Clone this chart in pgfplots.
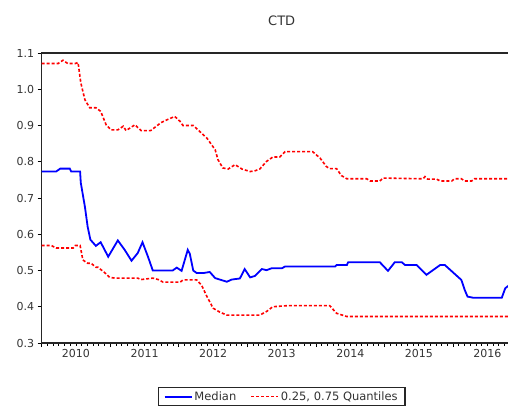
\documentclass[border=0pt]{standalone}
\usepackage{pgfplots}
\pgfplotsset{compat=1.18}
\usepackage{fontspec}
\setmainfont{DejaVu Sans}

\pgfplotstableread{
x y
2010.00 0.773
2010.21 0.773
2010.27 0.781
2010.41 0.781
2010.43 0.773
2010.56 0.773
2010.57 0.742
2010.63 0.676
2010.67 0.621
2010.71 0.585
2010.79 0.568
2010.86 0.578
2010.97 0.538
2011.11 0.583
2011.21 0.557
2011.31 0.527
2011.40 0.548
2011.47 0.578
2011.55 0.538
2011.62 0.500
2011.91 0.500
2011.97 0.508
2012.04 0.499
2012.13 0.557
2012.16 0.546
2012.21 0.500
2012.26 0.493
2012.36 0.493
2012.45 0.496
2012.53 0.479
2012.70 0.469
2012.77 0.475
2012.89 0.478
2012.96 0.504
2013.04 0.481
2013.11 0.485
2013.21 0.504
2013.28 0.501
2013.35 0.506
2013.50 0.506
2013.55 0.511
2014.28 0.511
2014.30 0.515
2014.45 0.515
2014.47 0.523
2014.93 0.523
2015.05 0.499
2015.15 0.523
2015.25 0.523
2015.30 0.515
2015.47 0.515
2015.61 0.488
2015.81 0.515
2015.88 0.515
2016.12 0.474
2016.17 0.446
2016.21 0.428
2016.29 0.425
2016.71 0.425
2016.76 0.451
2016.82 0.460
}\medtab

\pgfplotstableread{
x y
2010.00 1.071
2010.24 1.071
2010.31 1.080
2010.38 1.071
2010.49 1.071
2010.53 1.074
2010.57 1.018
2010.63 0.971
2010.70 0.949
2010.79 0.949
2010.86 0.939
2010.94 0.902
2011.01 0.888
2011.11 0.888
2011.19 0.898
2011.23 0.886
2011.36 0.902
2011.45 0.886
2011.59 0.886
2011.74 0.908
2011.83 0.916
2011.94 0.925
2012.02 0.911
2012.06 0.900
2012.21 0.900
2012.28 0.888
2012.41 0.865
2012.53 0.833
2012.57 0.806
2012.64 0.783
2012.72 0.780
2012.82 0.792
2012.92 0.780
2013.04 0.773
2013.11 0.775
2013.18 0.780
2013.28 0.801
2013.37 0.813
2013.47 0.813
2013.55 0.828
2013.95 0.828
2014.06 0.810
2014.15 0.787
2014.20 0.781
2014.30 0.781
2014.37 0.762
2014.45 0.753
2014.74 0.753
2014.79 0.747
2014.93 0.747
2014.98 0.755
2015.56 0.753
2015.59 0.759
2015.63 0.752
2015.76 0.752
2015.81 0.747
2015.98 0.747
2016.02 0.753
2016.12 0.753
2016.17 0.747
2016.27 0.747
2016.31 0.753
2016.82 0.753
}\uptab

\pgfplotstableread{
x y
2010.00 0.569
2010.14 0.569
2010.21 0.562
2010.46 0.562
2010.49 0.569
2010.56 0.569
2010.60 0.529
2010.67 0.520
2010.72 0.520
2010.79 0.509
2010.82 0.509
2010.92 0.494
2010.99 0.481
2011.07 0.479
2011.40 0.479
2011.45 0.475
2011.62 0.479
2011.70 0.475
2011.77 0.468
2012.02 0.468
2012.06 0.474
2012.26 0.474
2012.33 0.460
2012.41 0.428
2012.50 0.396
2012.60 0.385
2012.70 0.377
2013.18 0.377
2013.28 0.387
2013.37 0.400
2013.58 0.403
2014.20 0.403
2014.30 0.382
2014.45 0.373
2016.82 0.373
}\lowtab

\begin{document}
\begin{tikzpicture}
\begin{axis}[
  at={(0pt,0pt)}, anchor=south west,
  scale only axis, width=480pt, height=290pt,
  xmin=2010, xmax=2017, ymin=0.3, ymax=1.1,
  axis line style={black!85, line width=1.5pt},
  tick pos=left, tick align=outside,
  tick style={black, line width=0.9pt},
  major tick length=4pt, minor tick length=2.5pt,
  xtick={2010,2011,2012,2013,2014,2015,2016,2017},
  xticklabels={},
  minor x tick num=11,
  extra x ticks={2010.5,2011.5,2012.5,2013.5,2014.5,2015.5,2016.5},
  extra x tick labels={2010,2011,2012,2013,2014,2015,2016},
  extra x tick style={major tick length=0pt},
  xticklabel style={yshift=-3pt},
  ytick={0.3,0.4,0.5,0.6,0.7,0.8,0.9,1.0,1.1},
  yticklabels={0.3,0.4,0.5,0.6,0.7,0.8,0.9,1.0,1.1},
  ticklabel style={font=\fontsize{11}{13}\selectfont, text=black!80},
  title={CTD},
  title style={at={(0.5,1)}, anchor=center, yshift=26pt, font=\fontsize{13}{15}\selectfont, text=black!80},
  legend columns=2,
  legend style={at={(0.5,-0.1507)}, anchor=north, draw=black!85, line width=1.6pt,
    font=\fontsize{11.5}{13.5}\selectfont, text=black!80, inner xsep=5pt,
    /tikz/every even column/.append style={column sep=12pt}},
  legend image code/.code={\draw[#1] (0pt,0pt) -- (27pt,0pt);},
]
\addplot[blue, line width=1.8pt] table {\medtab};
\addlegendentry{Median}
\addplot[red, line width=1.6pt, dash pattern=on 3pt off 2pt] table {\uptab};
\addlegendentry{0.25, 0.75 Quantiles}
\addplot[red, line width=1.6pt, dash pattern=on 3pt off 2pt, forget plot] table {\lowtab};
\end{axis}
\pgfresetboundingbox
\path[use as bounding box] (-41.7pt,-62pt) rectangle (466.3pt,343pt);
\end{tikzpicture}
\end{document}
